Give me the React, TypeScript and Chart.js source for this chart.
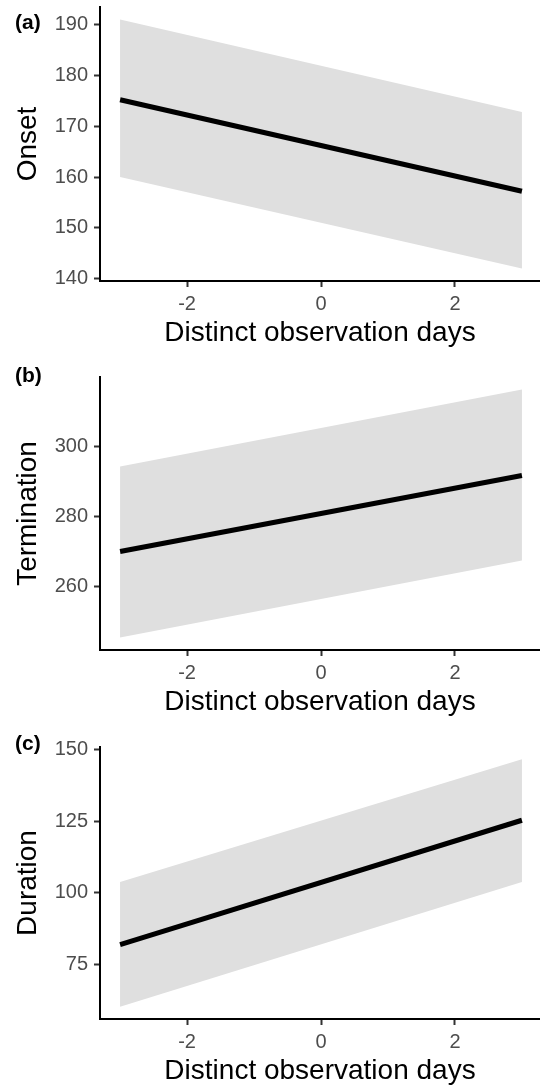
import React, { useEffect, useRef } from "react";
import { Chart, registerables } from "chart.js";

Chart.register(...registerables);

// ---- data ----
const xEnds = [-3, 3];
const xTicks = [-2, 0, 2];
const xTitle = "Distinct observation days";

const onsetFit = [175.2, 157.2];
const onsetUpper = [191.0, 172.8];
const onsetLower = [160.0, 142.0];
const onsetTicks = [140, 150, 160, 170, 180, 190];

const terminationFit = [270.0, 291.7];
const terminationUpper = [294.3, 316.3];
const terminationLower = [245.4, 267.4];
const terminationTicks = [260, 280, 300];

const durationFit = [82.0, 125.3];
const durationUpper = [103.8, 146.5];
const durationLower = [60.4, 103.8];
const durationTicks = [75, 100, 125, 150];

const panelLabels = ["(a)", "(b)", "(c)"];
const yTitles = ["Onset", "Termination", "Duration"];

// ---- layout ----
const FONT = "'Liberation Sans', Arial, Helvetica, sans-serif";
const CANVAS_H = 362;
const PAD_TOP = 7;
const panelLayout = [
  { top: 0, plotH: 274, labelTop: 11 },
  { top: 370, plotH: 273, labelTop: 364 },
  { top: 740, plotH: 272, labelTop: 732 },
];

type PanelProps = {
  fit: number[];
  upper: number[];
  lower: number[];
  yTicks: number[];
  yTitle: string;
  top: number;
  plotH: number;
};

function Panel({ fit, upper, lower, yTicks, yTitle, top, plotH }: PanelProps) {
  const ref = useRef<HTMLCanvasElement>(null);
  useEffect(() => {
    const all = [...upper, ...lower];
    const lo = Math.min(...all);
    const hi = Math.max(...all);
    const pad = (hi - lo) * 0.05;
    const xScaleH = CANVAS_H - PAD_TOP - plotH;
    const titleSize = 28;
    const titleLH = titleSize * 1.2;
    const xTitlePadBottom = CANVAS_H - titleLH / 2 - (PAD_TOP + plotH + 52);
    const chart = new Chart(ref.current!, {
      type: "line",
      data: {
        datasets: [
          {
            data: xEnds.map((x, i) => ({ x, y: fit[i] })),
            borderColor: "#000000",
            borderWidth: 5,
            pointRadius: 0,
            fill: false,
            order: 0,
            borderCapStyle: "butt",
          },
          {
            data: xEnds.map((x, i) => ({ x, y: upper[i] })),
            borderColor: "rgba(0,0,0,0)",
            borderWidth: 0,
            pointRadius: 0,
            backgroundColor: "#DFDFDF",
            fill: "+1",
            order: 1,
          },
          {
            data: xEnds.map((x, i) => ({ x, y: lower[i] })),
            borderColor: "rgba(0,0,0,0)",
            borderWidth: 0,
            pointRadius: 0,
            fill: false,
            order: 2,
          },
        ],
      },
      options: {
        animation: false,
        responsive: false,
        events: [],
        layout: { padding: { top: PAD_TOP, left: 0, right: 0, bottom: 0 } },
        plugins: { legend: { display: false }, tooltip: { enabled: false } },
        scales: {
          x: {
            type: "linear",
            min: -3.3,
            max: 3.27,
            afterBuildTicks: (s: any) => {
              s.ticks = xTicks.map((v) => ({ value: v }));
            },
            afterFit: (s: any) => {
              s.height = xScaleH;
              s.paddingLeft = 0;
              s.paddingRight = 0;
            },
            grid: {
              display: true,
              drawOnChartArea: false,
              drawTicks: true,
              tickLength: 6,
              tickColor: "#333333",
              tickWidth: 2,
            },
            border: { display: true, color: "#000000", width: 2 },
            ticks: {
              color: "#4D4D4D",
              font: { family: FONT, size: 20 },
              padding: 5,
              maxRotation: 0,
              callback: (v: any) => String(v),
            },
            title: {
              display: true,
              text: xTitle,
              color: "#000000",
              font: { family: FONT, size: titleSize },
              padding: { top: 0, bottom: xTitlePadBottom },
            },
          },
          y: {
            type: "linear",
            min: lo - pad,
            max: hi + pad,
            afterBuildTicks: (s: any) => {
              s.ticks = yTicks.map((v) => ({ value: v }));
            },
            afterFit: (s: any) => {
              s.width = 100;
              s.paddingTop = 0;
              s.paddingBottom = 0;
            },
            grid: {
              display: true,
              drawOnChartArea: false,
              drawTicks: true,
              tickLength: 6,
              tickColor: "#333333",
              tickWidth: 2,
            },
            border: { display: true, color: "#000000", width: 2 },
            ticks: {
              color: "#4D4D4D",
              font: { family: FONT, size: 20 },
              padding: 6,
              callback: (v: any) => String(v),
            },
            title: {
              display: true,
              text: yTitle,
              color: "#000000",
              font: { family: FONT, size: titleSize },
              padding: { top: 11, bottom: 0 },
            },
          },
        },
      },
    });
    return () => chart.destroy();
  }, []);
  return (
    <canvas
      ref={ref}
      width={540}
      height={CANVAS_H}
      style={{ position: "absolute", left: 0, top, width: 540, height: CANVAS_H }}
    />
  );
}

export default function App() {
  const panels = [
    { fit: onsetFit, upper: onsetUpper, lower: onsetLower, yTicks: onsetTicks },
    { fit: terminationFit, upper: terminationUpper, lower: terminationLower, yTicks: terminationTicks },
    { fit: durationFit, upper: durationUpper, lower: durationLower, yTicks: durationTicks },
  ];
  return (
    <div
      style={{
        position: "absolute",
        left: 0,
        top: 0,
        width: 540,
        height: 1086,
        overflow: "hidden",
        background: "#ffffff",
      }}
    >
      {panels.map((p, i) => (
        <Panel
          key={i}
          {...p}
          yTitle={yTitles[i]}
          top={panelLayout[i].top}
          plotH={panelLayout[i].plotH}
        />
      ))}
      {panelLabels.map((t, i) => (
        <div
          key={"l" + i}
          style={{
            position: "absolute",
            left: 15,
            top: panelLayout[i].labelTop,
            fontFamily: FONT,
            fontWeight: "bold",
            fontSize: 21,
            lineHeight: "21px",
            color: "#000",
          }}
        >
          {t}
        </div>
      ))}
    </div>
  );
}
